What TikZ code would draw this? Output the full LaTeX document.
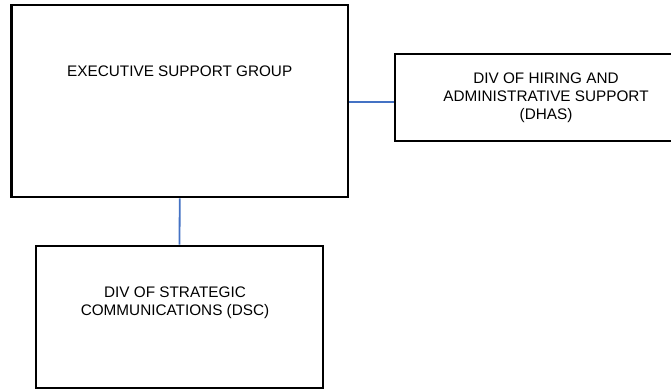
\documentclass[tikz,border=0pt]{standalone}
\usepackage{fontspec}
\setmainfont{Liberation Sans}
\usetikzlibrary{positioning, calc}

\definecolor{linkblue}{RGB}{68,114,196}

\begin{document}
\begin{tikzpicture}[
    x=1pt, y=-1pt,
    unit/.style={draw, rectangle, line width=2.6pt, inner sep=0pt},
    lbl/.style={align=center, inner sep=0pt, font=\fontsize{15.3}{18}\selectfont},
    link/.style={draw=linkblue, line width=1.8pt}
]
    \useasboundingbox[fill=white] (0,0) rectangle (671,389);
    \node[unit, minimum width=336.5pt, minimum height=192pt] (esg) at (179.75,101) {};
    \node[unit, minimum width=340pt, minimum height=87pt] (dhas) at (565,97.5) {};
    \node[unit, minimum width=287pt, minimum height=142pt] (dsc) at (179.5,317) {};

    \node[lbl] (esgtext) at ([yshift=-68pt]esg.north) {EXECUTIVE SUPPORT GROUP};
    \node[lbl] (dhastext) at (546,97.5) {DIV OF HIRING AND\\ADMINISTRATIVE SUPPORT\\(DHAS)};
    \node[lbl] (dsctext) at ([xshift=-4.5pt, yshift=-58pt]dsc.north) {DIV OF STRATEGIC\\COMMUNICATIONS (DSC)};

    \coordinate (tap) at ([yshift=-1pt]esg.east);
    \draw[link] (esg.south) -- (dsc.north);
    \draw[link] (tap) -- (tap -| dhas.west);
\end{tikzpicture}
\end{document}
